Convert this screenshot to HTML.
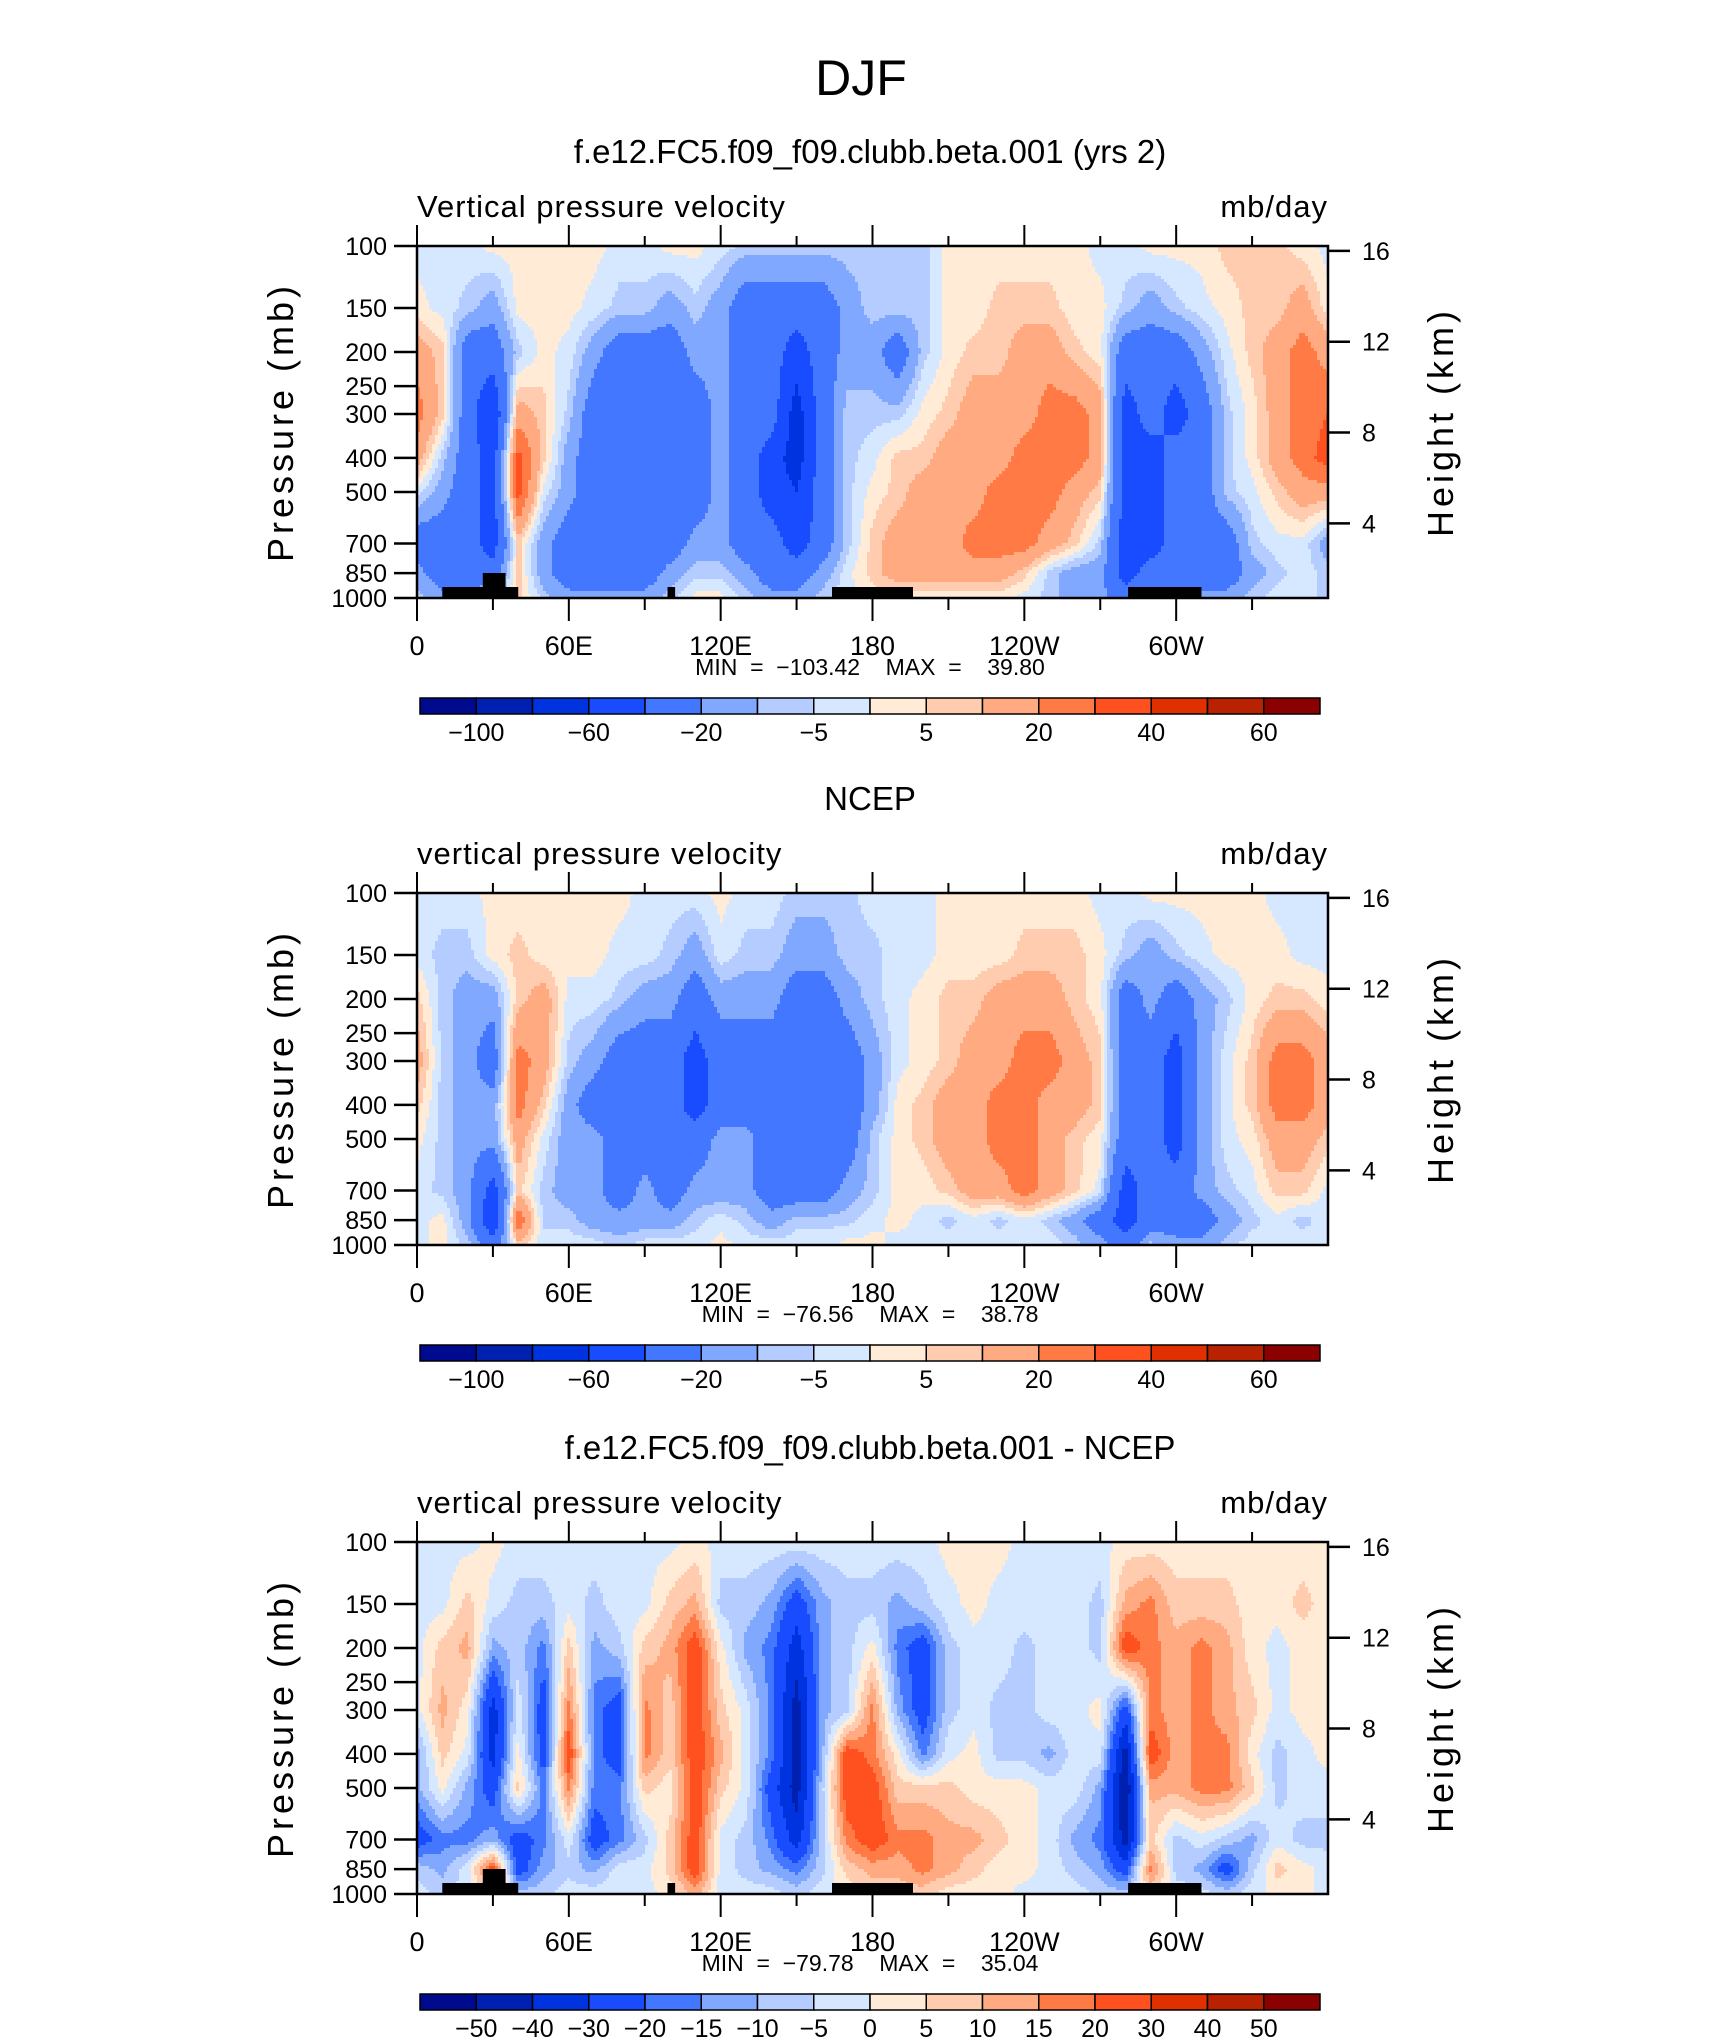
<!DOCTYPE html>
<html><head><meta charset="utf-8"><title>DJF vertical pressure velocity</title>
<style>
html,body{margin:0;padding:0;background:#fff;}
svg{display:block;font-family:"Liberation Sans",sans-serif;}
</style></head>
<body>
<svg id="fig" width="1710" height="2038" viewBox="0 0 1710 2038" xmlns="http://www.w3.org/2000/svg">
<rect width="1710" height="2038" fill="#fff"/>
<text x="861" y="95" font-size="50" text-anchor="middle" fill="#000">DJF</text>
</svg>
<script>
// ---- data ----
const lons = [0,10,20,30,40,50,60,70,80,90,100,110,120,130,140,150,160,170,180,190,200,210,220,230,240,250,260,270,280,290,300,310,320,330,340,350,360];
const pLevels = [100,150,200,300,400,500,700,850,1000];
const levelsAbs = [-100,-80,-60,-40,-20,-10,-5,0,5,10,20,30,40,50,60];
const levelsDiff = [-50,-40,-30,-20,-15,-10,-5,0,5,10,15,20,30,40,50];
const levelLabelsAbs = ["-100","","-60","","-20","","-5","","5","","20","","40","","60"];
const levelLabelsDiff = ["-50","-40","-30","-20","-15","-10","-5","0","5","10","15","20","30","40","50"];
const fillColors = ["#000a8f","#0020b0","#0033e0","#1a4cff","#4477ff","#80a8ff","#b4ccff","#d6e8ff","#ffebd6","#ffccb0","#ffaa80","#ff7a45","#ff5020","#e03000","#b82200","#8b0000"];

const modelOmega = [
[-2,-2,-2,2,2,2,2,2,-2,-2,2,2,-2,-7,-7,-7,-7,-7,-7,-7,-7,2,2,2,2,2,2,-2,-2,2,2,2,7,7,7,2,-2],
[2,-2,-7,-15,2,2,2,-2,-7,-7,-15,-7,-15,-30,-30,-30,-30,-15,-7,-7,-7,2,2,7,7,7,2,2,-7,-15,-7,-2,2,7,7,15,2],
[15,7,-30,-30,-7,2,-2,-15,-30,-30,-30,-15,-15,-30,-30,-50,-30,-15,-15,-30,-7,2,7,7,15,15,7,2,-30,-30,-30,-15,-2,7,15,25,15],
[25,7,-30,-60,15,7,-7,-30,-30,-30,-30,-30,-15,-30,-30,-70,-30,-7,-7,-7,2,7,15,15,15,25,25,15,-50,-30,-50,-30,-7,2,15,25,30],
[15,-7,-30,-50,35,7,-15,-30,-30,-30,-30,-30,-15,-30,-50,-70,-30,-7,-2,7,7,15,15,15,25,25,25,15,-50,-50,-30,-30,-7,2,15,25,35],
[-2,-15,-30,-50,35,-2,-15,-30,-30,-30,-30,-30,-15,-30,-50,-60,-30,-7,2,7,15,15,15,25,25,25,15,7,-50,-50,-30,-30,-7,-2,7,15,15],
[-30,-30,-30,-50,7,-15,-30,-30,-30,-30,-30,-15,-15,-30,-30,-50,-30,-7,7,15,15,15,25,25,25,15,7,-7,-50,-50,-30,-30,-30,-7,-2,-2,-15],
[-15,-30,-30,-30,7,-15,-30,-30,-30,-30,-15,-7,-7,-15,-30,-30,-15,-2,7,15,15,15,15,15,7,-7,-15,-15,-50,-30,-30,-30,-30,-15,-7,-2,-7],
[-7,-15,-15,-7,7,-7,-15,-15,-15,-15,-7,2,2,-7,-15,-15,-7,-2,2,2,2,2,2,2,-2,-7,-15,-15,-30,-15,-15,-15,-15,-7,-2,-2,-7]
];
const ncepOmega = [
[-2,-2,-2,2,2,2,2,2,2,-2,-2,-2,2,-2,-2,-7,-7,-7,-2,-2,-2,2,2,2,2,2,2,-2,-2,2,2,2,2,2,-2,-2,-2],
[-2,-7,-7,2,7,2,2,2,-2,-2,-7,-15,-2,-7,-7,-15,-15,-7,-7,-2,-2,2,2,2,7,7,7,2,-7,-15,-7,-2,2,2,2,-2,-2],
[7,-7,-15,-15,7,15,-2,-2,-7,-15,-15,-30,-15,-15,-15,-30,-30,-15,-7,-2,2,7,7,15,15,15,7,2,-30,-15,-30,-15,-7,2,7,7,2],
[15,-7,-15,-30,25,15,-7,-15,-30,-30,-30,-50,-30,-30,-30,-30,-30,-30,-15,-2,2,7,15,15,25,25,15,7,-30,-30,-50,-15,-2,7,25,25,15],
[7,-7,-15,-15,25,7,-15,-30,-30,-30,-30,-50,-30,-30,-30,-30,-30,-30,-15,2,7,15,15,25,25,15,15,7,-30,-30,-50,-15,-2,7,25,25,15],
[2,-7,-15,-15,15,-2,-15,-15,-30,-30,-30,-30,-15,-15,-30,-30,-30,-30,-7,2,7,15,15,25,25,15,7,2,-30,-30,-50,-15,-2,2,15,15,7],
[-2,-7,-15,-50,7,-7,-15,-15,-30,-15,-30,-15,-15,-15,-30,-30,-30,-15,-7,2,2,7,15,15,25,15,7,-2,-50,-30,-30,-15,-7,-2,7,7,-2],
[-2,2,-15,-60,30,-7,-7,-15,-15,-15,-15,-7,-2,-7,-15,-7,-7,-7,-2,2,-2,-7,-2,-7,-2,-7,-15,-30,-50,-30,-30,-30,-15,-7,-2,-7,-2],
[-2,2,-7,-30,7,-2,-2,-2,-7,-2,-2,-2,2,-2,-2,-2,-2,2,2,-2,-2,-2,-2,-2,-2,-2,-7,-15,-30,-7,-15,-15,-7,-2,-2,-2,-2]
];
const diffOmega = [
[-2,-2,-2,2,-2,-2,-2,-2,-2,-2,-2,2,-2,-2,-2,-2,-2,-2,-2,-2,-2,2,2,2,-2,-2,-2,-2,2,2,2,2,2,2,2,2,2],
[-2,-2,7,-2,-7,-7,-2,-7,-2,-2,7,12,-7,-7,-12,-25,-12,-7,-7,-12,-7,-2,2,-2,-2,-2,-2,-7,12,17,7,7,7,2,2,7,2],
[-2,7,12,-12,-7,-17,7,-12,-7,7,12,25,2,-12,-17,-35,-12,-7,2,-17,-25,-7,-2,-2,-7,-2,-2,-7,25,17,12,17,12,2,-2,2,2],
[-2,12,2,-35,-2,-25,17,-17,-25,17,7,25,7,-2,-17,-45,-12,-7,17,-12,-25,-7,-2,-7,-7,-2,-2,2,-25,17,12,17,12,7,-2,2,2],
[-12,7,-2,-35,2,-25,25,-17,-25,17,7,25,12,-2,-17,-45,-12,25,17,2,-17,-2,2,-7,-7,-12,-2,-2,-45,25,12,17,17,2,-7,-2,2],
[-12,2,-12,-25,7,-17,17,-17,-17,7,2,25,7,-2,-25,-45,-7,25,25,7,7,7,2,2,2,-2,-2,-12,-50,12,12,17,17,7,-7,-2,-2],
[-25,-17,-17,-12,-25,-17,-2,-25,-17,-7,7,25,-2,-7,-17,-35,-7,17,25,17,17,12,12,7,2,-2,-12,-17,-45,7,-7,-2,-7,-12,-2,-7,-7],
[-7,-12,-2,25,-25,-12,-7,-12,-2,-2,7,25,-2,-7,-12,-17,-7,7,12,12,17,12,7,2,2,-2,-7,-12,-25,17,-7,-12,-25,-7,7,2,-2],
[-2,-7,-2,7,-7,-7,-2,-2,-2,-2,2,12,-2,-2,-2,-7,-2,2,7,7,7,2,2,2,-2,-2,-2,-7,-7,7,-2,-2,-7,-2,2,2,-2]
];
const landLow = [[10,40],[99,102],[164,196],[281,310]];
const landTall = [[26,35]];
const lonTickLabels = ["0","60E","120E","180","120W","60W"];
const lonTickValues = [0,60,120,180,240,300];
const pTickValues = [100,150,200,250,300,400,500,700,850,1000];
const zTickValues = [4,8,12,16];
const panelTitles = ["f.e12.FC5.f09_f09.clubb.beta.001 (yrs 2)","NCEP","f.e12.FC5.f09_f09.clubb.beta.001 - NCEP"];
const panelLeftTitles = ["Vertical pressure velocity","vertical pressure velocity","vertical pressure velocity"];
const minMax = ["MIN  =  \u2212103.42    MAX  =    39.80","MIN  =  \u221276.56    MAX  =    38.78","MIN  =  \u221279.78    MAX  =    35.04"];

// ---- layout ----
const NS = "http://www.w3.org/2000/svg";
const svg = document.getElementById('fig');
const L = 417, W = 911, H = 352;
const tops = [246, 893, 1542];
function mk(tag, attrs, parent){const e=document.createElementNS(NS,tag);for(const k in attrs)e.setAttribute(k,attrs[k]);(parent||svg).appendChild(e);return e;}
function xScale(lon){return L + lon/360*W;}
function yScaleFn(top){return p => top + H*Math.log10(p/100);}
function zToY(top){return z => top + H*(1.046 - 0.0645*z);}
function colorIndex(v, levels){let i=0;while(i<levels.length && v>=levels[i])i++;return i;}
function sample(rows, lon, p){
  let i = Math.min(lons.length-2, Math.max(0, Math.floor(lon/10)));
  const tx = Math.max(0, Math.min(1, (lon - lons[i])/(lons[i+1]-lons[i])));
  const lp = Math.log10(p);
  let j = 0; while(j<pLevels.length-2 && Math.log10(pLevels[j+1])<lp) j++;
  const l0=Math.log10(pLevels[j]), l1=Math.log10(pLevels[j+1]);
  const ty = Math.max(0,Math.min(1,(lp-l0)/(l1-l0)));
  const g=(r,c)=>{const row=rows[r];const v=row[c];return v===undefined?row[row.length-1]:v;};
  const a=g(j,i)*(1-tx)+g(j,i+1)*tx;
  const b=g(j+1,i)*(1-tx)+g(j+1,i+1)*tx;
  return a*(1-ty)+b*ty;
}

const datasets=[modelOmega,ncepOmega,diffOmega];
const levelSets=[levelsAbs,levelsAbs,levelsDiff];
const labelSets=[levelLabelsAbs,levelLabelsAbs,levelLabelsDiff];

datasets.forEach((rows, k) => {
  const top = tops[k];
  const yScale = yScaleFn(top);
  const levels = levelSets[k];
  const g = mk('g', {});
  
  
  const t = mk('text', {x: 870, y: top-83, 'font-size': 33, 'text-anchor':'middle', fill:'#000'}, g);
  
  
  t.textContent = panelTitles[k];
  const lt = mk('text', {x: L, y: top-29, 'font-size': 31, fill:'#000', 'letter-spacing':'1'}, g);
  
  
  lt.textContent = panelLeftTitles[k];
  const ut = mk('text', {x: L+W, y: top-29, 'font-size': 31, fill:'#000', 'text-anchor':'end', 'letter-spacing':'1'}, g);
  
  
  ut.textContent = 'mb/day';
  // contour fill
  const cg = mk('g', {'shape-rendering':'crispEdges'}, g);
  
  
  const step = 3;
  for (let y = 0; y < H; y += step) {
    const p = 100*Math.pow(10, Math.min(H, y+step/2)/H);
    let runStart = 0, runC = -1;
    let x = 0;
    while (true) {
      const done = x >= W;
      let c = -2;
      if (!done) { const lon = Math.min(360, (x+step/2)/W*360); c = colorIndex(sample(rows, lon, p), levels); }
      if (c !== runC) {
        if (runC >= 0) {
          const r = mk('rect', {x: L+runStart, y: top+y, width: Math.min(x, W)-runStart+0.6, height: Math.min(step+0.6, H-y), fill: fillColors[runC]}, cg);
          
          
        }
        runStart = x; runC = c;
      }
      if (done) break;
      x += step;
    }
  }
  if (k !== 1) {
    landLow.forEach(b => {
      const r = mk('rect', {x: xScale(b[0]), y: top+H-11, width: xScale(b[1])-xScale(b[0]), height: 11, fill:'#000'}, g);
      
      
    });
    landTall.forEach(b => {
      const r = mk('rect', {x: xScale(b[0]), y: top+H-25, width: xScale(b[1])-xScale(b[0]), height: 25, fill:'#000'}, g);
      
      
    });
  }
  const fr = mk('rect', {x: L, y: top, width: W, height: H, fill:'none', stroke:'#000', 'stroke-width': 2.5}, g);
  
  
  for (let lon = 0; lon <= 330; lon += 30) {
    const major = lon % 60 === 0;
    const x = xScale(lon);
    const tt = mk('line', {x1:x, x2:x, y1: top, y2: top-(major?21:10), stroke:'#000','stroke-width':2}, g);
    
    
    const tb = mk('line', {x1:x, x2:x, y1: top+H, y2: top+H+(major?23:12), stroke:'#000','stroke-width':2}, g);
    
    
  }
  lonTickValues.forEach((v, i) => {
    const tl = mk('text', {x: xScale(v), y: top+H+57, 'font-size': 27, 'text-anchor':'middle', fill:'#000'}, g);
    
    
    tl.textContent = lonTickLabels[i];
  });
  const mm = mk('text', {x: 870, y: top+H+77, 'font-size': 23, 'text-anchor':'middle', fill:'#000', 'xml:space':'preserve', style:'white-space:pre'}, g);
  
  
  mm.textContent = minMax[k];
  pTickValues.forEach(p => {
    const y = yScale(p);
    const tk = mk('line', {x1: L-23, x2: L, y1:y, y2:y, stroke:'#000','stroke-width':2.5}, g);
    
    
    const tl = mk('text', {x: L-30, y: y+9, 'font-size': 25, 'text-anchor':'end', fill:'#000'}, g);
    
    
    tl.textContent = p;
  });
  const zY = zToY(top);
  zTickValues.forEach(z => {
    const y = zY(z);
    const tk = mk('line', {x1: L+W, x2: L+W+22, y1:y, y2:y, stroke:'#000','stroke-width':2.5}, g);
    
    
    const tl = mk('text', {x: L+W+34, y: y+9, 'font-size': 25, fill:'#000'}, g);
    
    
    tl.textContent = z;
  });
  const ya = mk('text', {x: 0, y: 0, 'font-size': 36, 'text-anchor':'middle', fill:'#000', 'letter-spacing':'4', transform:`translate(293 ${top+176}) rotate(-90)`}, g);
  
  
  ya.textContent = 'Pressure (mb)';
  const za = mk('text', {x: 0, y: 0, 'font-size': 36, 'text-anchor':'middle', fill:'#000', 'letter-spacing':'4', transform:`translate(1453 ${top+176}) rotate(-90)`}, g);
  
  
  za.textContent = 'Height (km)';
  const cbTop = top + 452, cbL = 420, cbW = 900, cbH = 16;
  const bw = cbW/fillColors.length;
  const cb = mk('g', {}, g);
  
  
  fillColors.forEach((c, i) => {
    const r = mk('rect', {x: cbL+i*bw, y: cbTop, width: bw, height: cbH, fill: c, stroke:'#000', 'stroke-width':1.5}, cb);
    
    
  });
  labelSets[k].forEach((s, i) => {
    if (!s) return;
    const tl = mk('text', {x: cbL+(i+1)*bw, y: cbTop+43, 'font-size': 25, 'text-anchor':'middle', fill:'#000'}, cb);
    
    
    tl.textContent = s.replace('-', '\u2212');
  });
});
</script>
</body></html>
